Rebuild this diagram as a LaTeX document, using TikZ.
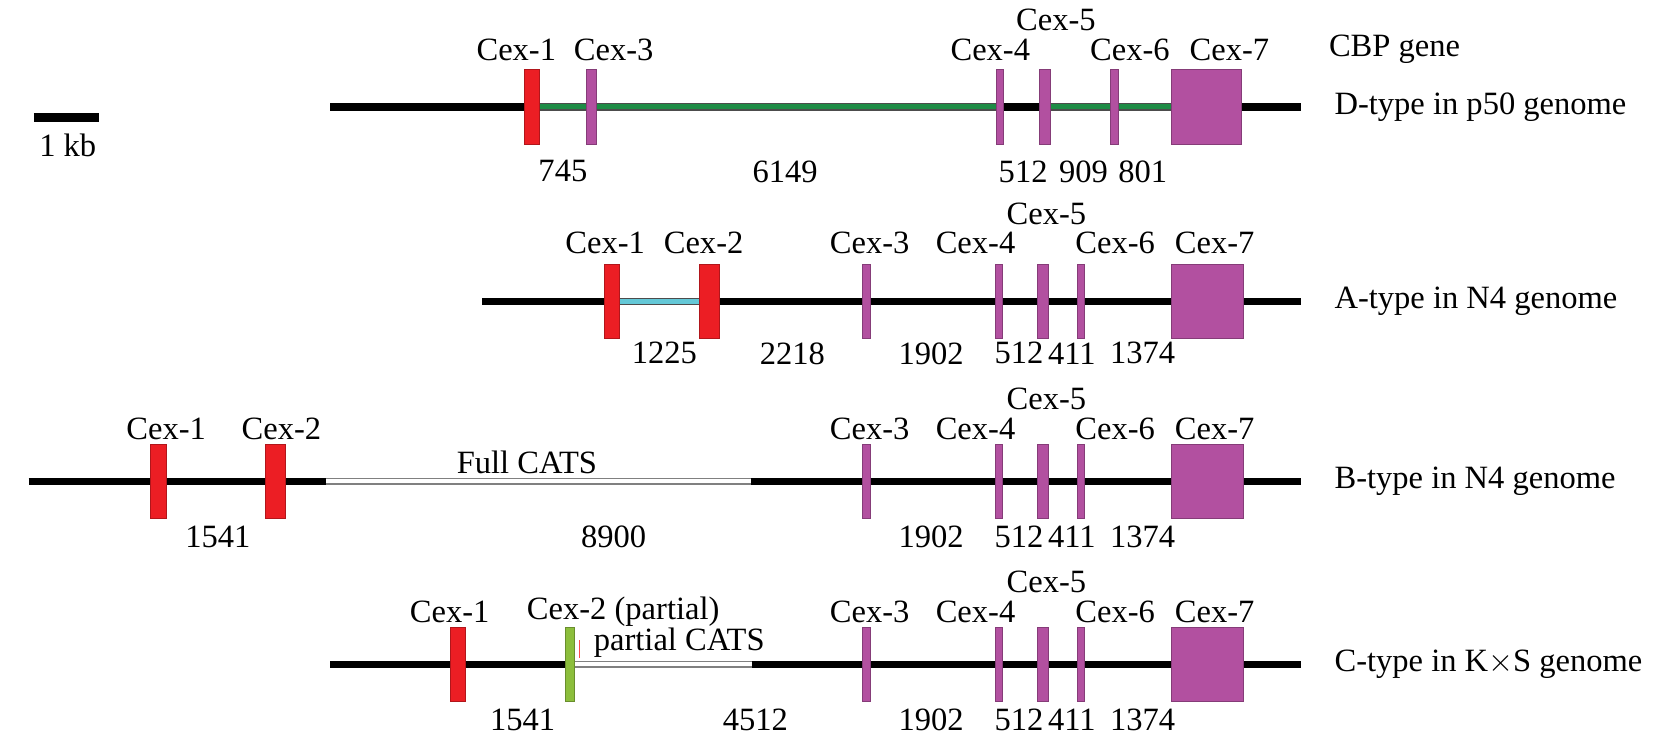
\documentclass[tikz,border=0pt]{standalone}
\usepackage{fontspec}
\setmainfont{Liberation Serif}
\usetikzlibrary{backgrounds}

\definecolor{exred}{RGB}{236,30,36}
\definecolor{expurple}{RGB}{178,80,160}
\definecolor{exlime}{RGB}{140,190,60}
\definecolor{intgreen}{RGB}{30,140,70}
\definecolor{intcyan}{RGB}{100,200,215}

\tikzset{
  exon/.style={shape=rectangle,draw=#1!75!black,fill=#1,inner sep=0pt,minimum height=1.4cm},
  lbl/.style={font=\fontsize{17.5}{20}\selectfont,inner sep=1pt},
  typelbl/.style={font=\fontsize{17.5}{20}\selectfont,anchor=west,inner sep=0pt},
  dna/.style={line width=4.2pt,draw=black},
  intron/.style={draw=black!70,line width=0.7pt,double=#1,double distance=2.8pt},
  cats/.style={draw=gray,line width=1pt,double=white,double distance=2.2pt}
}

\begin{document}
\begin{tikzpicture}[x=0.02cm,y=-0.02cm]
	\useasboundingbox (0,0) rectangle (1568,702);

	% scale bar
	\coordinate (k1) at (32,111);
	\coordinate (k2) at (94,111);
	\draw[dna,line width=4.5pt] (k1) -- (k2);
	\node[lbl] (kb) at (64,137) {1 kb};

	% D-type
	\coordinate (ds) at (312,101);
	\coordinate (de) at (1230,101);
	\node[exon=exred,minimum width=0.28cm]    (d1) at (503,101)  {};
	\node[exon=expurple,minimum width=0.2cm]  (d3) at (559,101)  {};
	\node[exon=expurple,minimum width=0.12cm] (d4) at (945,101)  {};
	\node[exon=expurple,minimum width=0.22cm] (d5) at (987.5,101) {};
	\node[exon=expurple,minimum width=0.16cm] (d6) at (1053,101) {};
	\node[exon=expurple,minimum width=1.32cm] (d7) at (1140,101) {};
	\node[lbl] (d1l) at (488,47)  {Cex-1};
	\node[lbl] (d3l) at (580,47)  {Cex-3};
	\node[lbl] (d4l) at (936,47)  {Cex-4};
	\node[lbl] (d5l) at (998,19)  {Cex-5};
	\node[lbl] (d6l) at (1068,47) {Cex-6};
	\node[lbl] (d7l) at (1162,47) {Cex-7};
	\node[lbl,anchor=west] (cbp) at (1254,47) {CBP gene};
	\node[lbl] (d13) at (532,162)  {745};
	\node[lbl] (d34) at (742,162)  {6149};
	\node[lbl] (d45) at (967,162)  {512};
	\node[lbl] (d56) at (1024,162) {909};
	\node[lbl] (d67) at (1080,162) {801};
	\node[typelbl] (dt) at (1261,101) {D-type in p50 genome};

	% A-type
	\coordinate (as) at (456,285);
	\coordinate (ae) at (1230,285);
	\node[exon=exred,minimum width=0.28cm]    (a1) at (578,285)    {};
	\node[exon=exred,minimum width=0.38cm]    (a2) at (670.5,285)  {};
	\node[exon=expurple,minimum width=0.16cm] (a3) at (819,285)    {};
	\node[exon=expurple,minimum width=0.12cm] (a4) at (944,285)    {};
	\node[exon=expurple,minimum width=0.22cm] (a5) at (985.5,285)  {};
	\node[exon=expurple,minimum width=0.14cm] (a6) at (1021.5,285) {};
	\node[exon=expurple,minimum width=1.36cm] (a7) at (1141,285)   {};
	\node[lbl] (a1l) at (572,230)  {Cex-1};
	\node[lbl] (a2l) at (665,230)  {Cex-2};
	\node[lbl] (a3l) at (822,230)  {Cex-3};
	\node[lbl] (a4l) at (922,230)  {Cex-4};
	\node[lbl] (a5l) at (989,202)  {Cex-5};
	\node[lbl] (a6l) at (1054,230) {Cex-6};
	\node[lbl] (a7l) at (1148,230) {Cex-7};
	\node[lbl] (a12) at (628,334)  {1225};
	\node[lbl] (a23) at (749,334)  {2218};
	\node[lbl] (a34) at (880,334)  {1902};
	\node[lbl] (a45) at (963,334)  {512};
	\node[lbl] (a56) at (1013,334) {411};
	\node[lbl] (a67) at (1080,334) {1374};
	\node[typelbl] (at) at (1261,285) {A-type in N4 genome};

	% B-type
	\coordinate (bs) at (27,455);
	\coordinate (be) at (1230,455);
	\coordinate (bc1) at (308,455);
	\coordinate (bc2) at (710,455);
	\node[exon=exred,minimum width=0.3cm]     (b1) at (149.5,455)  {};
	\node[exon=exred,minimum width=0.38cm]    (b2) at (260.5,455)  {};
	\node[exon=expurple,minimum width=0.16cm] (b3) at (819,455)    {};
	\node[exon=expurple,minimum width=0.12cm] (b4) at (944,455)    {};
	\node[exon=expurple,minimum width=0.22cm] (b5) at (985.5,455)  {};
	\node[exon=expurple,minimum width=0.14cm] (b6) at (1021.5,455) {};
	\node[exon=expurple,minimum width=1.36cm] (b7) at (1141,455)   {};
	\node[lbl] (b1l) at (157,405)  {Cex-1};
	\node[lbl] (b2l) at (266,405)  {Cex-2};
	\node[lbl] (bcl) at (498,437)  {Full CATS};
	\node[lbl] (b3l) at (822,405)  {Cex-3};
	\node[lbl] (b4l) at (922,405)  {Cex-4};
	\node[lbl] (b5l) at (989,377)  {Cex-5};
	\node[lbl] (b6l) at (1054,405) {Cex-6};
	\node[lbl] (b7l) at (1148,405) {Cex-7};
	\node[lbl] (b12) at (206,507)  {1541};
	\node[lbl] (b23) at (580,507)  {8900};
	\node[lbl] (b34) at (880,507)  {1902};
	\node[lbl] (b45) at (963,507)  {512};
	\node[lbl] (b56) at (1013,507) {411};
	\node[lbl] (b67) at (1080,507) {1374};
	\node[typelbl] (bt) at (1261,455) {B-type in N4 genome};

	% C-type
	\coordinate (cs) at (312,628);
	\coordinate (ce) at (1230,628);
	\coordinate (cc2) at (711,628);
	\coordinate (ct1) at (548,605);
	\coordinate (ct2) at (548,622);
	\node[exon=exred,minimum width=0.28cm]    (c1) at (433,628)    {};
	\node[exon=exlime,minimum width=0.18cm]   (c2) at (538.5,628)  {};
	\node[exon=expurple,minimum width=0.16cm] (c3) at (819,628)    {};
	\node[exon=expurple,minimum width=0.12cm] (c4) at (944,628)    {};
	\node[exon=expurple,minimum width=0.22cm] (c5) at (985.5,628)  {};
	\node[exon=expurple,minimum width=0.14cm] (c6) at (1021.5,628) {};
	\node[exon=expurple,minimum width=1.36cm] (c7) at (1141,628)   {};
	\node[lbl] (c1l) at (425,578)  {Cex-1};
	\node[lbl] (c2l) at (589,578)  {Cex-2 (partial)};
	\node[lbl] (ccl) at (642,607)  {partial CATS};
	\node[lbl] (c3l) at (822,578)  {Cex-3};
	\node[lbl] (c4l) at (922,578)  {Cex-4};
	\node[lbl] (c5l) at (989,550)  {Cex-5};
	\node[lbl] (c6l) at (1054,578) {Cex-6};
	\node[lbl] (c7l) at (1148,578) {Cex-7};
	\node[lbl] (c12) at (494,680)  {1541};
	\node[lbl] (c23) at (714,680)  {4512};
	\node[lbl] (c34) at (880,680)  {1902};
	\node[lbl] (c45) at (963,680)  {512};
	\node[lbl] (c56) at (1013,680) {411};
	\node[lbl] (c67) at (1080,680) {1374};
	\node[typelbl] (ctl) at (1261,628) {C-type in K$\times$S genome};

	\begin{pgfonlayer}{background}
		\draw[dna] (ds) -- (de);
		\draw[intron=intgreen] (d1.east) -- (d4.west);
		\draw[intron=intgreen] (d5.east) -- (d7.west);
		\draw[dna] (as) -- (ae);
		\draw[intron=intcyan] (a1.east) -- (a2.west);
		\draw[dna] (bs) -- (be);
		\draw[cats] (bc1) -- (bc2);
		\draw[dna] (cs) -- (ce);
		\draw[cats] (c2.east) -- (cc2);
		\draw[red!70,line width=0.5pt] (ct1) -- (ct2);
	\end{pgfonlayer}
\end{tikzpicture}
\end{document}
